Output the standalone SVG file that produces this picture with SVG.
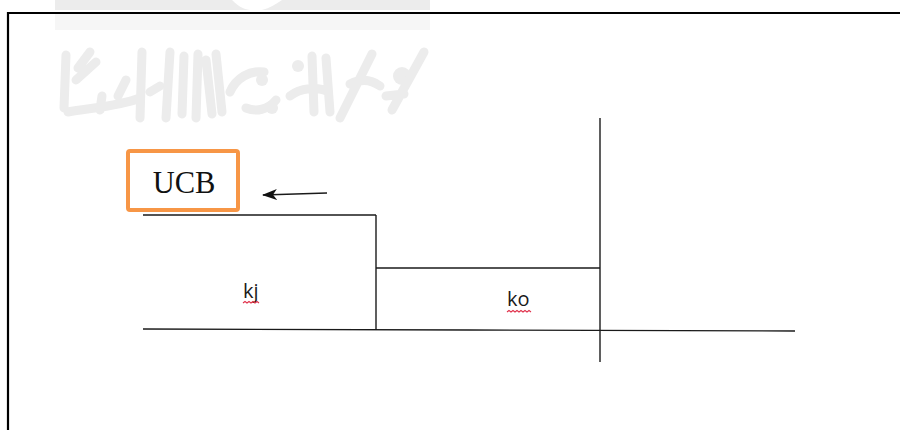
<svg xmlns="http://www.w3.org/2000/svg" width="900" height="430" viewBox="0 0 900 430">
  <style>
    .frame { fill: none; stroke: #000; stroke-width: 2.2; }
    .wm { fill: none; stroke: #ececec; stroke-width: 9; stroke-linecap: round; stroke-linejoin: round; }
    .wmfill { fill: #ececec; }
    .ln { fill: none; stroke: #1a1a1a; stroke-width: 1.4; }
    .box { fill: #fff; stroke: #f79646; stroke-width: 4; }
    .serif { font-family: "Liberation Serif", "Times New Roman", serif; fill: #111; }
    .sans { font-family: "Open Sans", "Liberation Sans", Arial, sans-serif; fill: #1a1a1a; }
    .squiggle { fill: none; stroke: #e0304a; stroke-width: 1.1; }
  </style>
  <defs>
    <marker id="head" markerWidth="15" markerHeight="12" refX="14" refY="6" orient="auto" markerUnits="userSpaceOnUse">
      <path d="M15,6 L0,0.5 L4,6 L0,11.5 Z" fill="#111"/>
    </marker>
  </defs>

  <rect width="900" height="430" fill="#fff"/>

  <!-- faint watermark emblem behind the chart -->
  <g id="watermark">
    <path class="wmfill" d="M55,0 H232 C240,8 246,10 252,10 H55 Z"/>
    <path class="wmfill" d="M262,10 C270,8 276,4 282,0 H430 V10 Z"/>
    <rect x="55" y="14" width="375" height="16" fill="#f6f6f6"/>
    <path class="wm" d="M66,55 L64,108 M78,68 L90,52 M76,80 L96,62 M68,112 C90,108 120,106 140,98"/>
    <path class="wm" d="M100,110 L102,96 M118,96 L126,80 M142,52 L140,118 M150,92 L160,86"/>
    <path class="wm" d="M170,52 L166,118 M184,56 L182,114 M198,54 L196,118 M206,60 L212,114 M216,54 L222,112"/>
    <path class="wm" d="M230,92 C236,78 250,70 264,72 M246,108 C256,112 268,110 276,100"/>
    <circle class="wmfill" cx="262" cy="80" r="6"/>
    <circle class="wmfill" cx="272" cy="108" r="6"/>
    <circle class="wmfill" cx="298" cy="66" r="6"/>
    <path class="wm" d="M290,96 C300,88 318,86 328,92 M312,56 L314,112 M326,58 L330,112"/>
    <path class="wm" d="M340,118 L372,54 M350,84 C362,78 372,80 380,86"/>
    <circle class="wmfill" cx="402" cy="76" r="9"/>
    <path class="wm" d="M392,110 L424,52 M386,96 L404,94"/>
  </g>

  <!-- page frame -->
  <g id="frame">
    <path class="frame" d="M900,13 H8 V430"/>
  </g>

  <!-- cost curve structure -->
  <g id="connectors">
    <line class="ln" x1="143" y1="215" x2="376" y2="215"/>
    <line class="ln" x1="376" y1="215" x2="376" y2="330"/>
    <line class="ln" x1="376" y1="268" x2="600" y2="268"/>
    <line class="ln" x1="600" y1="118" x2="600" y2="362"/>
    <polyline class="ln" points="143,329 470,330 795,331"/>
    <line class="ln" x1="327" y1="193" x2="263" y2="195" marker-end="url(#head)"/>
  </g>

  <g id="ucb">
    <rect class="box" x="128" y="151" width="110" height="59" rx="2"/>
    <text class="serif" x="184" y="193" font-size="30.5" text-anchor="middle">UCB</text>
  </g>

  <g id="kj">
    <text class="sans" x="243" y="298" font-size="20">kj</text>
    <path class="squiggle" d="M243,303 l2,-1.5 l2,1.5 l2,-1.5 l2,1.5 l2,-1.5 l2,1.5 l2,-1.5 l2,1.5"/>
  </g>

  <g id="ko">
    <text class="sans" x="507" y="306" font-size="20">ko</text>
    <path class="squiggle" d="M507,312 l2,-1.5 l2,1.5 l2,-1.5 l2,1.5 l2,-1.5 l2,1.5 l2,-1.5 l2,1.5 l2,-1.5 l2,1.5 l2,-1.5 l2,1.5"/>
  </g>
</svg>
